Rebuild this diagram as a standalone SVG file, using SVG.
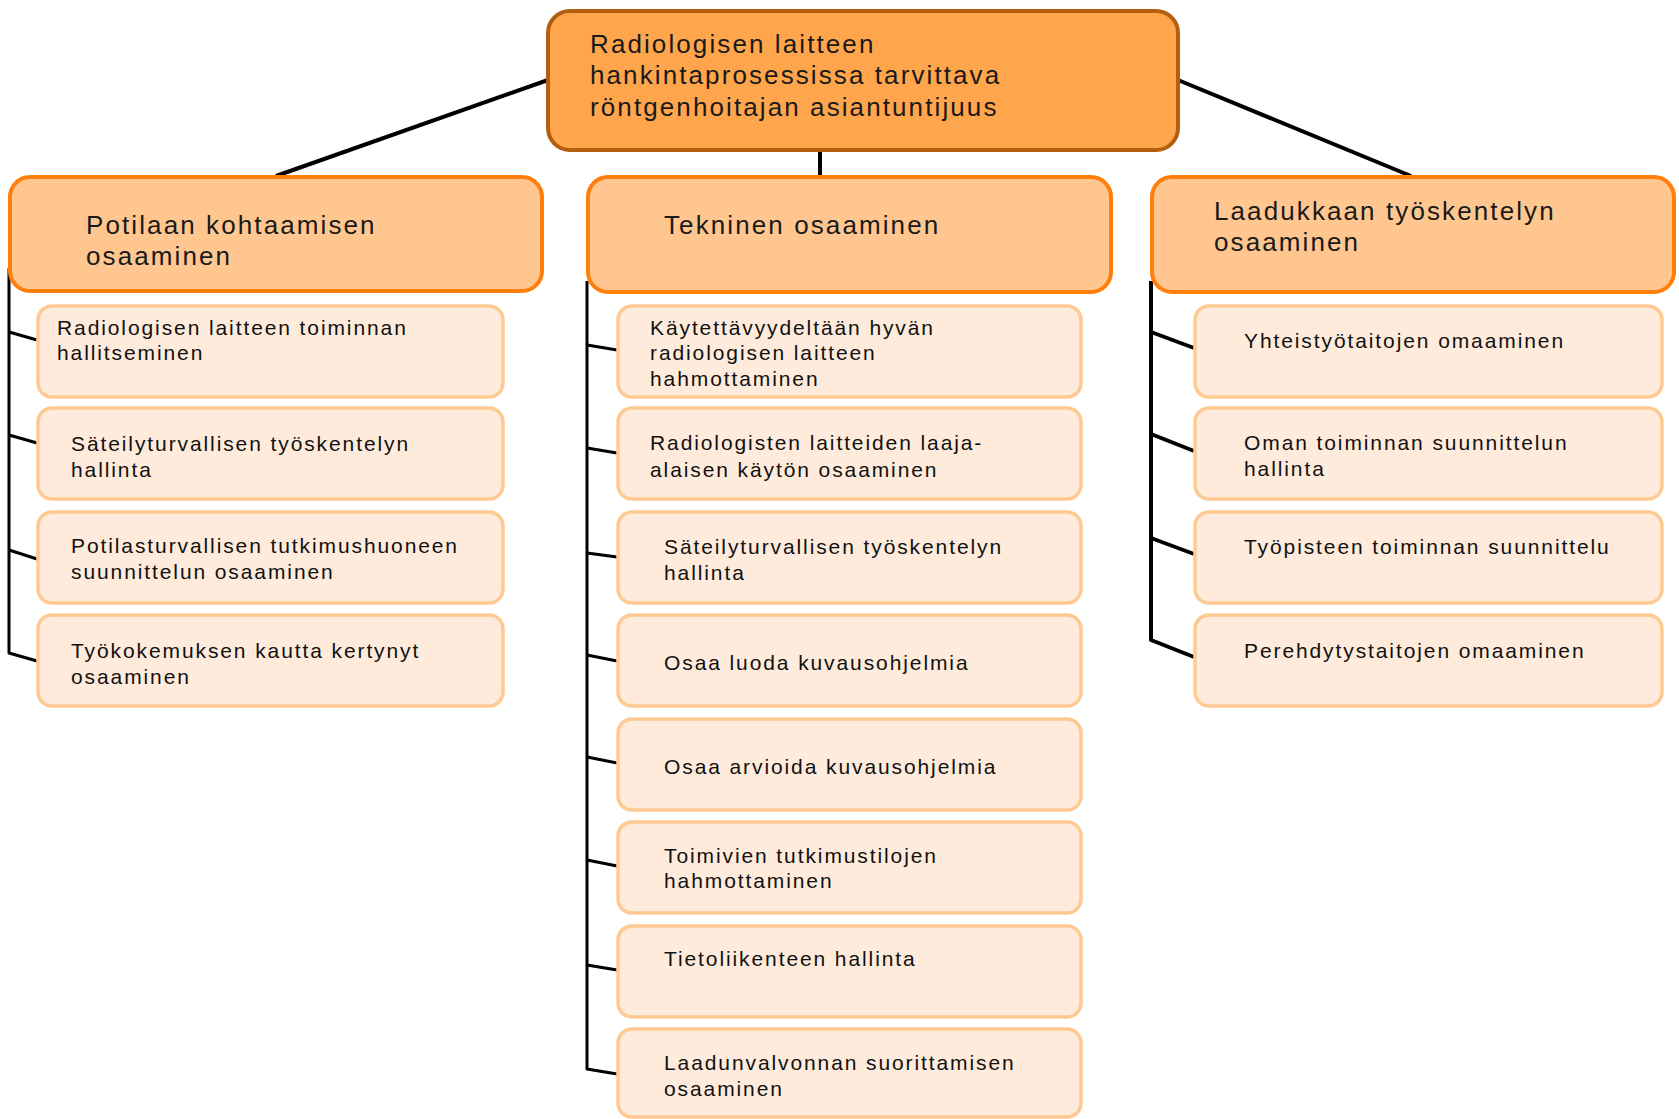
<svg xmlns="http://www.w3.org/2000/svg" width="1679" height="1119" viewBox="0 0 1679 1119">
<style>
.bg{fill:#ffffff}
.root{fill:#FFA64D;stroke:#B45F10;stroke-width:4}
.l1{fill:#FFC78F;stroke:#FF7F0A;stroke-width:4}
.l2{fill:#FEEBDB;stroke:#FFC992;stroke-width:3.5}
.tb{font-family:"Liberation Sans",Arial,sans-serif;font-size:26px;letter-spacing:2.1px;fill:#1a1a1a}
.ts{font-family:"Liberation Sans",Arial,sans-serif;font-size:21px;letter-spacing:1.9px;fill:#111111}
.c{stroke:#000000;fill:none;stroke-width:4;stroke-linejoin:round}
.cs{stroke:#000000;fill:none;stroke-width:3;stroke-linejoin:round}
</style>
<rect class="bg" x="0" y="0" width="1679" height="1119"/>
<g id="connectors">
<line class="c" x1="548" y1="80" x2="276" y2="176"/>
<line class="c" x1="820" y1="150" x2="820" y2="178"/>
<line class="c" x1="1178" y1="80" x2="1411" y2="176"/>
<polyline class="cs" points="9,268 9,653 37,661"/>
<line class="cs" x1="9" y1="332" x2="37" y2="340"/>
<line class="cs" x1="9" y1="435" x2="37" y2="443"/>
<line class="cs" x1="9" y1="550" x2="37" y2="559"/>
<polyline class="cs" points="587,281 587,1069 617,1074"/>
<line class="cs" x1="587" y1="345" x2="617" y2="350"/>
<line class="cs" x1="587" y1="448" x2="617" y2="453"/>
<line class="cs" x1="587" y1="553" x2="617" y2="557"/>
<line class="cs" x1="587" y1="655" x2="617" y2="661"/>
<line class="cs" x1="587" y1="757" x2="617" y2="763"/>
<line class="cs" x1="587" y1="860" x2="617" y2="866"/>
<line class="cs" x1="587" y1="965" x2="617" y2="970"/>
<polyline class="c" points="1151,281 1151,640 1194,657"/>
<line class="c" x1="1151" y1="332" x2="1194" y2="348"/>
<line class="c" x1="1151" y1="434" x2="1194" y2="451"/>
<line class="c" x1="1151" y1="538" x2="1194" y2="554"/>
</g>
<g id="root">
<rect class="root" x="548" y="11" width="630" height="139" rx="22"/>
<text class="tb" x="590" y="53">Radiologisen laitteen</text>
<text class="tb" x="590" y="84">hankintaprosessissa tarvittava</text>
<text class="tb" x="590" y="116">röntgenhoitajan asiantuntijuus</text>
</g>
<g id="potilaan">
<rect class="l1" x="10" y="177" width="532" height="114" rx="20"/>
<text class="tb" x="86" y="234">Potilaan kohtaamisen</text>
<text class="tb" x="86" y="265">osaaminen</text>
</g>
<g id="tekninen">
<rect class="l1" x="588" y="177" width="523" height="115" rx="20"/>
<text class="tb" x="664" y="234">Tekninen osaaminen</text>
</g>
<g id="laadukkaan">
<rect class="l1" x="1152" y="177" width="522" height="115" rx="20"/>
<text class="tb" x="1214" y="220">Laadukkaan työskentelyn</text>
<text class="tb" x="1214" y="251">osaaminen</text>
</g>
<g id="l-1">
<rect class="l2" x="38" y="306" width="465" height="91" rx="14"/>
<text class="ts" x="57" y="335">Radiologisen laitteen toiminnan</text>
<text class="ts" x="57" y="360">hallitseminen</text>
</g>
<g id="l-2">
<rect class="l2" x="38" y="408" width="465" height="91" rx="14"/>
<text class="ts" x="71" y="451">Säteilyturvallisen työskentelyn</text>
<text class="ts" x="71" y="477">hallinta</text>
</g>
<g id="l-3">
<rect class="l2" x="38" y="512" width="465" height="91" rx="14"/>
<text class="ts" x="71" y="553">Potilasturvallisen tutkimushuoneen</text>
<text class="ts" x="71" y="579">suunnittelun osaaminen</text>
</g>
<g id="l-4">
<rect class="l2" x="38" y="615" width="465" height="91" rx="14"/>
<text class="ts" x="71" y="658">Työkokemuksen kautta kertynyt</text>
<text class="ts" x="71" y="684">osaaminen</text>
</g>
<g id="m-1">
<rect class="l2" x="618" y="306" width="463" height="91" rx="14"/>
<text class="ts" x="650" y="335">Käytettävyydeltään hyvän</text>
<text class="ts" x="650" y="360">radiologisen laitteen</text>
<text class="ts" x="650" y="386">hahmottaminen</text>
</g>
<g id="m-2">
<rect class="l2" x="618" y="408" width="463" height="91" rx="14"/>
<text class="ts" x="650" y="450">Radiologisten laitteiden laaja-</text>
<text class="ts" x="650" y="477">alaisen käytön osaaminen</text>
</g>
<g id="m-3">
<rect class="l2" x="618" y="512" width="463" height="91" rx="14"/>
<text class="ts" x="664" y="554">Säteilyturvallisen työskentelyn</text>
<text class="ts" x="664" y="580">hallinta</text>
</g>
<g id="m-4">
<rect class="l2" x="618" y="615" width="463" height="91" rx="14"/>
<text class="ts" x="664" y="670">Osaa luoda kuvausohjelmia</text>
</g>
<g id="m-5">
<rect class="l2" x="618" y="719" width="463" height="91" rx="14"/>
<text class="ts" x="664" y="774">Osaa arvioida kuvausohjelmia</text>
</g>
<g id="m-6">
<rect class="l2" x="618" y="822" width="463" height="91" rx="14"/>
<text class="ts" x="664" y="863">Toimivien tutkimustilojen</text>
<text class="ts" x="664" y="888">hahmottaminen</text>
</g>
<g id="m-7">
<rect class="l2" x="618" y="926" width="463" height="91" rx="14"/>
<text class="ts" x="664" y="966">Tietoliikenteen hallinta</text>
</g>
<g id="m-8">
<rect class="l2" x="618" y="1029" width="463" height="88" rx="14"/>
<text class="ts" x="664" y="1070">Laadunvalvonnan suorittamisen</text>
<text class="ts" x="664" y="1096">osaaminen</text>
</g>
<g id="r-1">
<rect class="l2" x="1195" y="306" width="467" height="91" rx="14"/>
<text class="ts" x="1244" y="348">Yhteistyötaitojen omaaminen</text>
</g>
<g id="r-2">
<rect class="l2" x="1195" y="408" width="467" height="91" rx="14"/>
<text class="ts" x="1244" y="450">Oman toiminnan suunnittelun</text>
<text class="ts" x="1244" y="476">hallinta</text>
</g>
<g id="r-3">
<rect class="l2" x="1195" y="512" width="467" height="91" rx="14"/>
<text class="ts" x="1244" y="554">Työpisteen toiminnan suunnittelu</text>
</g>
<g id="r-4">
<rect class="l2" x="1195" y="615" width="467" height="91" rx="14"/>
<text class="ts" x="1244" y="658">Perehdytystaitojen omaaminen</text>
</g>
</svg>
